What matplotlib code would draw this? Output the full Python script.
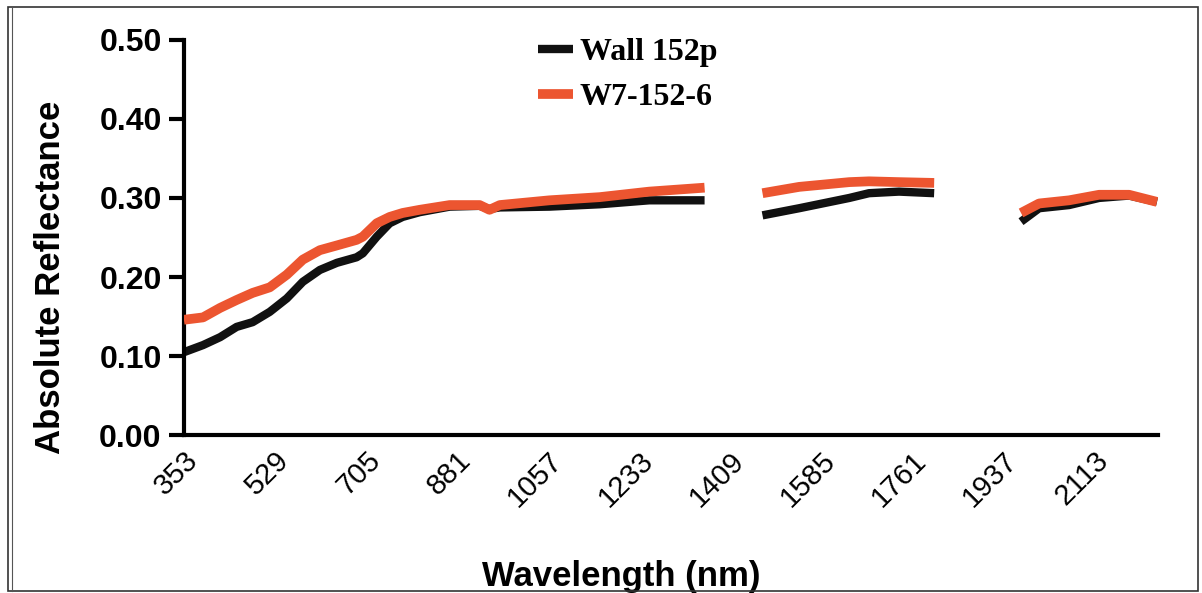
import matplotlib.pyplot as plt
from matplotlib.lines import Line2D
from matplotlib.patches import Rectangle

# wavelength (nm) per segment, gaps at water bands
wl_seg1 = [353, 390, 423, 455, 486, 519, 552, 583, 616, 649, 687, 699, 726, 751,
           776, 809, 867, 925, 944, 964, 1060, 1157, 1253, 1360]
wall_seg1 = [0.105, 0.114, 0.124, 0.137, 0.143, 0.156, 0.173, 0.194, 0.209, 0.218,
             0.225, 0.230, 0.251, 0.268, 0.276, 0.282, 0.289, 0.290, 0.286, 0.288,
             0.289, 0.292, 0.297, 0.297]
w7_seg1 = [0.146, 0.149, 0.161, 0.171, 0.180, 0.187, 0.203, 0.222, 0.234, 0.240,
           0.247, 0.251, 0.268, 0.276, 0.281, 0.285, 0.291, 0.291, 0.285, 0.291,
           0.297, 0.301, 0.308, 0.313]

wl_seg2 = [1472, 1543, 1640, 1678, 1736, 1804]
wall_seg2 = [0.278, 0.287, 0.300, 0.306, 0.308, 0.306]
w7_seg2 = [0.306, 0.314, 0.320, 0.321, 0.320, 0.319]

wl_seg3 = [1972, 2007, 2065, 2123, 2181, 2235]
wall_seg3 = [0.270, 0.287, 0.291, 0.300, 0.303, 0.295]
w7_seg3 = [0.281, 0.293, 0.297, 0.304, 0.304, 0.295]

x_ticks = [353, 529, 705, 881, 1057, 1233, 1409, 1585, 1761, 1937, 2113]
y_ticks = [0.0, 0.1, 0.2, 0.3, 0.4, 0.5]

BLACK = '#111111'
ORANGE = '#EC5530'

fig = plt.figure(figsize=(12.02, 5.93), dpi=100)
ax = fig.add_axes([0.153, 0.266, 0.810, 0.667])

for wl, wall, w7 in [(wl_seg1, wall_seg1, w7_seg1),
                     (wl_seg2, wall_seg2, w7_seg2),
                     (wl_seg3, wall_seg3, w7_seg3)]:
    ax.plot(wl, wall, color=BLACK, lw=6, solid_capstyle='butt', zorder=2)
    ax.plot(wl, w7, color=ORANGE, lw=7, solid_capstyle='butt', zorder=3)

ax.set_xlim(353, 2236)
ax.set_ylim(0, 0.5)
ax.set_yticks(y_ticks)
ax.set_yticklabels(['%.2f' % v for v in y_ticks], fontsize=23, fontweight='bold',
                   family='Liberation Sans')
ax.set_xticks(x_ticks)
ax.set_xticklabels([str(v) for v in x_ticks], fontsize=21, rotation=45,
                   ha='right', rotation_mode='anchor', family='Liberation Sans')
ax.tick_params(axis='y', length=11, width=3, pad=5)
ax.tick_params(axis='x', length=0, pad=8)

for side in ['top', 'right']:
    ax.spines[side].set_visible(False)
for side in ['left', 'bottom']:
    ax.spines[side].set_linewidth(3)

ax.set_ylabel('Absolute Reflectance', fontsize=25, fontweight='bold',
              family='Liberation Sans')
ax.yaxis.set_label_coords(-0.12, 0.40)
ax.set_xlabel('Wavelength (nm)', fontsize=25, fontweight='bold',
              family='Liberation Sans')
ax.xaxis.set_label_coords(0.449, -0.315)

handles = [Line2D([], [], color=BLACK, lw=6, solid_capstyle='butt'),
           Line2D([], [], color=ORANGE, lw=7, solid_capstyle='butt')]
ax.legend(handles, ['Wall 152p', 'W7-152-6'], loc='upper left',
          bbox_to_anchor=(0.364, 1.005), frameon=False, handlelength=1.1,
          handletextpad=0.2, labelspacing=0.5, borderpad=0, borderaxespad=0,
          prop={'family': 'Liberation Serif', 'weight': 'bold', 'size': 23})

# outer frame of the picture
fig.patches.append(Rectangle((8 / 1202, 2 / 593), 1190 / 1202, 584 / 593,
                             transform=fig.transFigure, fill=False,
                             edgecolor='#333333', lw=1.2))
fig.lines.append(Line2D([12 / 1202, 12 / 1202], [2 / 593, 586 / 593],
                        transform=fig.transFigure, color='#555555', lw=0.8))

fig.savefig('out.png', dpi=100)
